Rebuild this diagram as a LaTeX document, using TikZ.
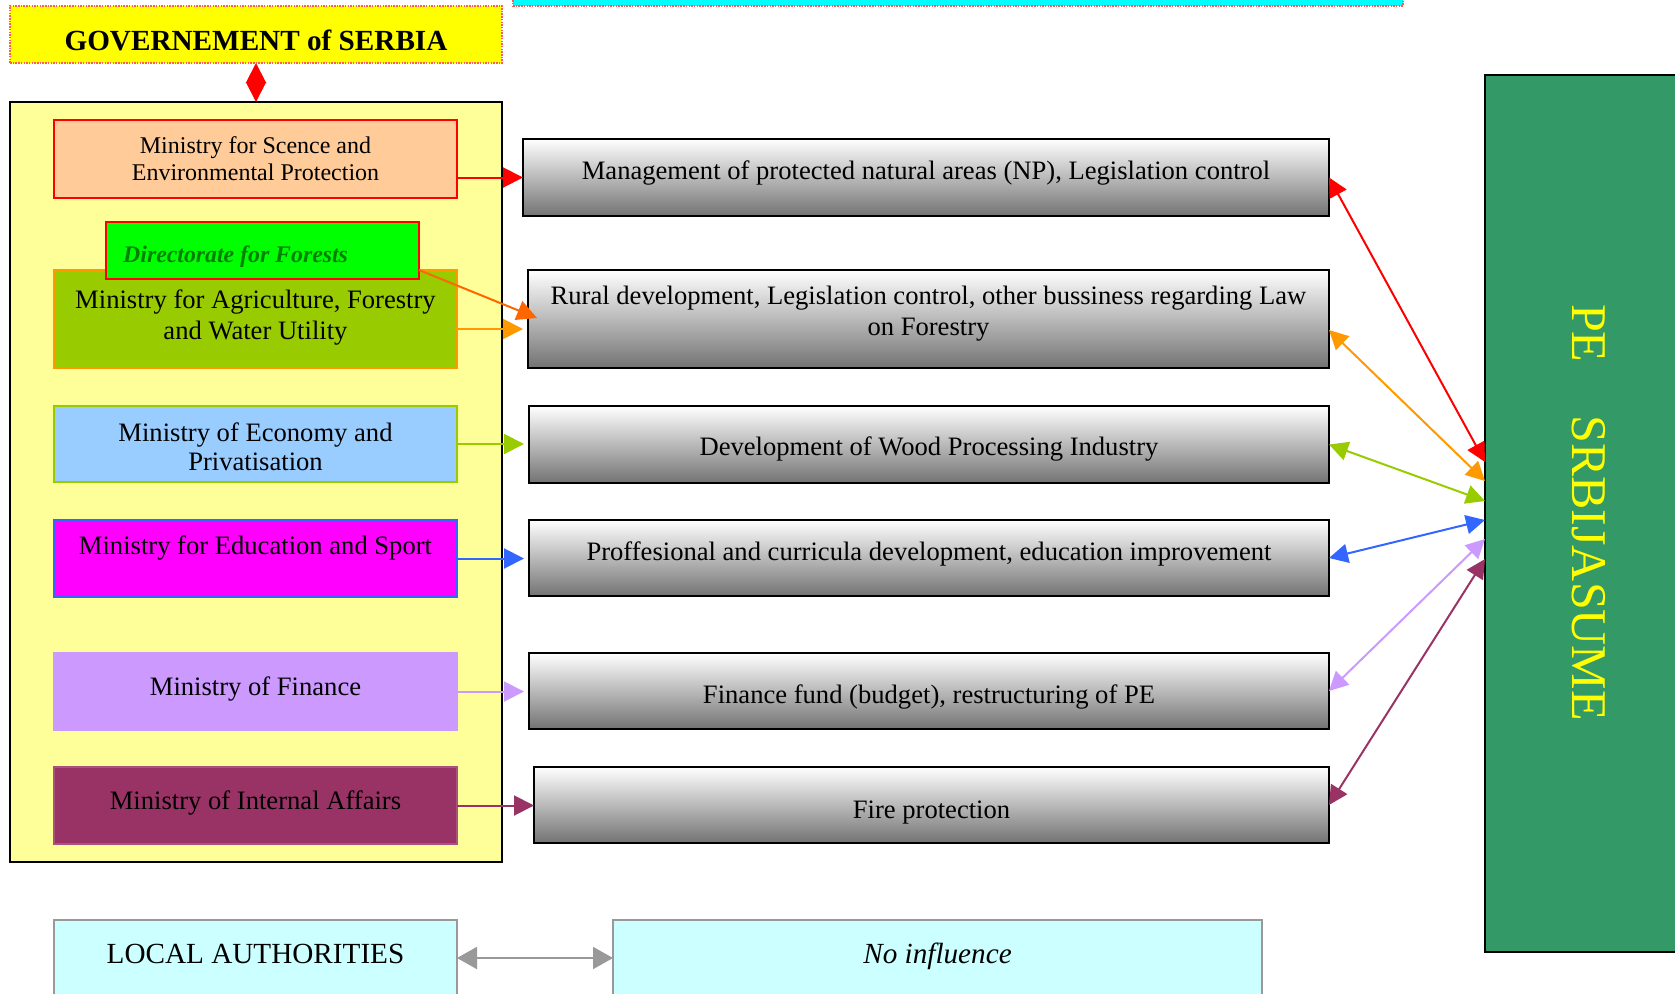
\documentclass[tikz,border=0pt]{standalone}
\usepackage{fontspec}
\setmainfont{Liberation Serif}
\usetikzlibrary{arrows.meta,calc}
\definecolor{govyellow}{HTML}{FFFF00}
\definecolor{dotpink}{HTML}{FF5A5A}
\definecolor{topcyan}{HTML}{00FFFF}
\definecolor{contyellow}{HTML}{FFFF99}
\definecolor{scifill}{HTML}{FFCC99}
\definecolor{agrifill}{HTML}{99CC00}
\definecolor{agriorange}{HTML}{FF9900}
\definecolor{dirorange}{HTML}{FF6600}
\definecolor{dirgreen}{HTML}{00FF00}
\definecolor{dirtext}{HTML}{008000}
\definecolor{econfill}{HTML}{99CCFF}
\definecolor{lime}{HTML}{99CC00}
\definecolor{edublue}{HTML}{3366FF}
\definecolor{edumagenta}{HTML}{FF00FF}
\definecolor{lilac}{HTML}{CC99FF}
\definecolor{plum}{HTML}{993366}
\definecolor{pegreen}{HTML}{339966}
\definecolor{peyellow}{HTML}{FFFF00}
\definecolor{lightcyan}{HTML}{CCFFFF}
\definecolor{midgray}{HTML}{999999}
\tikzset{
  boxnw/.style={anchor=north west, inner sep=0pt, outer sep=0pt},
  minbox/.style={boxnw, line width=2pt, minimum width=403pt},
  gradbox/.style={boxnw, draw=black, line width=2pt, top color=white, bottom color=black!55},
  dotbox/.style={boxnw, draw=dotpink, line width=1.2pt, dash pattern=on 1.5pt off 1.2pt},
  txt/.style={anchor=base, inner sep=0pt, align=center, font=\fontsize{26.6}{31}\selectfont},
  arr/.style={line width=2pt, -{Triangle[length=20pt,width=20pt]}},
  darr/.style={line width=2pt, {Triangle[length=19pt,width=19pt]}-{Triangle[length=19pt,width=19pt]}}
}
\begin{document}
\begin{tikzpicture}[x=1pt,y=-1pt]
\useasboundingbox (0,0) rectangle (1675,993);

% top boxes
\node[dotbox, fill=topcyan, minimum width=890pt, minimum height=12pt] (topc) at (513,-6) {};
\node[dotbox, fill=govyellow, minimum width=492pt, minimum height=57pt] (gov) at (10,6) {};
\node[txt, font=\fontsize{29.2}{35}\selectfont\bfseries] (gov-t) at (256,50) {GOVERNEMENT of SERBIA};

% container
\node[boxnw, draw=black, line width=2pt, fill=contyellow, minimum width=492pt, minimum height=760pt] (cont) at (10,102) {};
\draw[red, line width=2pt, {Triangle[length=20pt,width=20pt]}-{Triangle[length=20pt,width=20pt]}] (gov.south) -- (gov.south |- cont.north);

% ministries
\node[minbox, draw=red, fill=scifill, minimum height=78pt] (sci) at (54,120) {};
\node[txt, font=\fontsize{24}{27}\selectfont] (sci-t) at (255.5,180) {Ministry for Scence and\\Environmental Protection};

\node[minbox, draw=agriorange, fill=agrifill, minimum height=98pt] (agri) at (54,270) {};
\node[txt] (agri-t) at (255.5,339) {Ministry for Agriculture, Forestry\\and Water Utility};

\node[boxnw, draw=red, line width=2pt, fill=dirgreen, minimum width=313pt, minimum height=57pt] (dir) at (106,222) {};
\node[txt, anchor=base west, text=dirtext, font=\fontsize{23.8}{28}\selectfont\bfseries\itshape] (dir-t) at (123,262) {Directorate for Forests};

\node[minbox, draw=lime, fill=econfill, minimum height=76pt] (econ) at (54,406) {};
\node[txt, font=\fontsize{26.6}{29}\selectfont] (econ-t) at (255.5,470) {Ministry of Economy and\\Privatisation};

\node[minbox, draw=edublue, fill=edumagenta, minimum height=77pt] (edu) at (54,520) {};
\node[txt] (edu-t) at (255.5,554) {Ministry for Education and Sport};

\node[minbox, draw=lilac, fill=lilac, minimum height=77pt] (fin) at (54,653) {};
\node[txt] (fin-t) at (255.5,695) {Ministry of Finance};

\node[minbox, draw=plum!85!white, fill=plum, minimum height=77pt] (int) at (54,767) {};
\node[txt] (int-t) at (255.5,809) {Ministry of Internal Affairs};

% activity boxes
\node[gradbox, minimum width=806pt, minimum height=77pt] (m1) at (523,139) {};
\node[txt] (m1-t) at (926,179) {Management of protected natural areas (NP), Legislation control};
\node[gradbox, minimum width=801pt, minimum height=98pt] (m2) at (528,270) {};
\node[txt] (m2-t) at (928.5,335) {Rural development, Legislation control, other bussiness regarding Law\\on Forestry};
\node[gradbox, minimum width=800pt, minimum height=77pt] (m3) at (529,406) {};
\node[txt] (m3-t) at (929,455.5) {Development of Wood Processing Industry};
\node[gradbox, minimum width=800pt, minimum height=76pt] (m4) at (529,520) {};
\node[txt] (m4-t) at (929,560) {Proffesional and curricula development, education improvement};
\node[gradbox, minimum width=800pt, minimum height=76pt] (m5) at (529,653) {};
\node[txt] (m5-t) at (929,703) {Finance fund (budget), restructuring of PE};
\node[gradbox, minimum width=795pt, minimum height=76pt] (m6) at (534,767) {};
\node[txt] (m6-t) at (931.5,818) {Fire protection};

% PE box
\node[boxnw, draw=black, line width=2pt, fill=pegreen, minimum width=220pt, minimum height=877pt] (pe) at (1485,75) {};
\node[rotate=-90, anchor=base, inner sep=0pt, text=peyellow, font=\fontsize{50}{60}\selectfont] (pe-t) at (1572,512.5) {PE\hspace{53pt}SRBIJASUME};

% local authorities
\node[minbox, draw=midgray, fill=lightcyan, minimum height=100pt] (la) at (54,920) {};
\node[txt, font=\fontsize{29.2}{35}\selectfont] (la-t) at (255.5,963) {LOCAL AUTHORITIES};
\node[boxnw, draw=midgray, line width=2pt, fill=lightcyan, minimum width=649pt, minimum height=100pt] (ni) at (613,920) {};
\node[txt, font=\fontsize{29.2}{35}\selectfont\itshape] (ni-t) at (937.5,963) {No influence};

% coordinates
\coordinate (a-start) at ($(agri.east)+(0,10)$);
\coordinate (d-start) at ($(dir.south east)+(0,-9)$);
\coordinate (d-end) at ($(m2.west)+(9,-1)$);
\coordinate (m2-r) at ($(m2.east)+(0,11)$);
\coordinate (pe1) at ($(pe.north west)+(0,387)$);
\coordinate (pe2) at ($(pe.north west)+(0,406)$);
\coordinate (pe3) at ($(pe.north west)+(0,426)$);
\coordinate (pe4) at ($(pe.north west)+(0,445)$);
\coordinate (pe5) at ($(pe.north west)+(0,464)$);
\coordinate (pe6) at ($(pe.north west)+(0,484)$);

% left arrows
\draw[arr, red] (sci.east |- m1.west) -- (m1.west);
\draw[arr, agriorange, shorten >=5pt] (a-start) -- (a-start -| m2.west);
\draw[arr, dirorange] (d-start) -- (d-end);
\draw[arr, lime, shorten >=5pt] (econ.east) -- (econ.east -| m3.west);
\draw[arr, edublue, shorten >=5pt] (edu.east) -- (edu.east -| m4.west);
\draw[arr, lilac, shorten >=5pt] (fin.east) -- (fin.east -| m5.west);
\draw[arr, plum] (int.east) -- (int.east -| m6.west);

% right arrows
\draw[darr, red] (m1.east) -- (pe1);
\draw[darr, agriorange] (m2-r) -- (pe2);
\draw[darr, lime] (m3.east) -- (pe3);
\draw[darr, edublue] (m4.east) -- (pe4);
\draw[darr, lilac] (m5.east) -- (pe5);
\draw[darr, plum] (m6.east) -- (pe6);

% bottom
\draw[line width=2pt, midgray, {Triangle[length=20pt,width=22pt]}-{Triangle[length=20pt,width=22pt]}] ($(la.north east)+(0,38)$) -- ($(ni.north west)+(0,38)$);
\end{tikzpicture}
\end{document}
